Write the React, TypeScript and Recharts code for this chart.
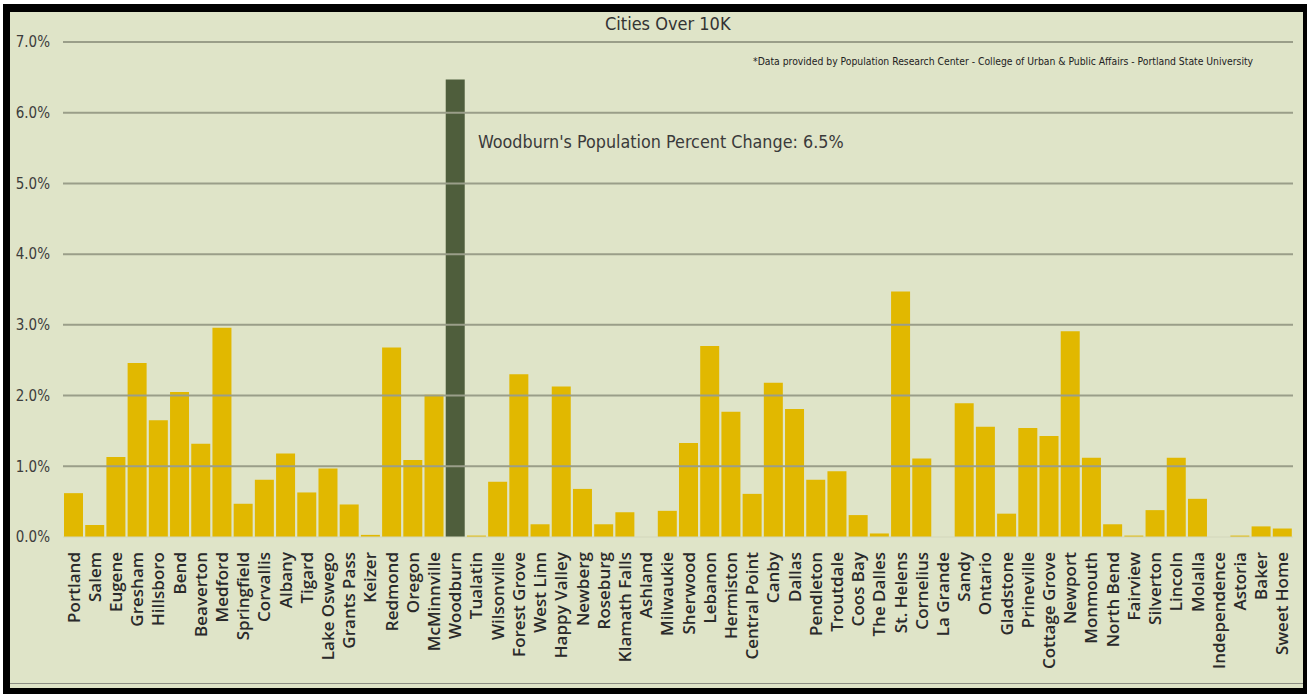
import React from 'react';
import { BarChart, Bar, XAxis, YAxis, Cell, ReferenceLine } from 'recharts';

// cities in the order they appear on the axis
const cities = [
  'Portland', 'Salem', 'Eugene', 'Gresham', 'Hillsboro', 'Bend', 'Beaverton', 'Medford',
  'Springfield', 'Corvallis', 'Albany', 'Tigard', 'Lake Oswego', 'Grants Pass', 'Keizer',
  'Redmond', 'Oregon', 'McMinnville', 'Woodburn', 'Tualatin', 'Wilsonville', 'Forest Grove',
  'West Linn', 'Happy Valley', 'Newberg', 'Roseburg', 'Klamath Falls', 'Ashland', 'Milwaukie',
  'Sherwood', 'Lebanon', 'Hermiston', 'Central Point', 'Canby', 'Dallas', 'Pendleton',
  'Troutdale', 'Coos Bay', 'The Dalles', 'St. Helens', 'Cornelius', 'La Grande', 'Sandy',
  'Ontario', 'Gladstone', 'Prineville', 'Cottage Grove', 'Newport', 'Monmouth', 'North Bend',
  'Fairview', 'Silverton', 'Lincoln', 'Molalla', 'Independence', 'Astoria', 'Baker', 'Sweet Home',
];

// population percent change (%)
const pctChange = [
  0.62, 0.17, 1.13, 2.46, 1.65, 2.05, 1.32, 2.96,
  0.47, 0.81, 1.18, 0.63, 0.97, 0.46, 0.03,
  2.68, 1.09, 2.01, 6.47, 0.02, 0.78, 2.3,
  0.18, 2.13, 0.68, 0.18, 0.35, 0.0, 0.37,
  1.33, 2.7, 1.77, 0.61, 2.18, 1.81, 0.81,
  0.93, 0.31, 0.05, 3.47, 1.11, 0.0, 1.89,
  1.56, 0.33, 1.54, 1.43, 2.91, 1.12, 0.18,
  0.02, 0.38, 1.12, 0.54, 0.0, 0.02, 0.15, 0.12,
];

const highlightCity = 'Woodburn';
const yTicks = [0, 1, 2, 3, 4, 5, 6, 7];
const gridValues = [1, 2, 3, 4, 5, 6, 7];

const narrow = '"Liberation Sans Narrow", "DejaVu Sans Condensed", "Arial Narrow", sans-serif';

function CityTick({ x, y, payload }: any) {
  return (
    <text
      x={x}
      y={y}
      transform={`rotate(-90 ${x} ${y})`}
      textAnchor="end"
      dy="0.35em"
      fontSize={17}
      fontWeight={600}
      fill="#2a2a2a"
      fontFamily='"Open Sans", sans-serif'
    >
      {payload.value}
    </text>
  );
}

export default function App() {
  const data = cities.map((city, i) => ({ city, pct: pctChange[i] }));

  return (
    <div style={{ position: 'absolute', left: 0, top: 0, width: 1307, height: 694, background: '#fff', overflow: 'hidden' }}>
      <div
        style={{
          position: 'absolute',
          left: 3,
          top: 4,
          right: 0,
          bottom: 0,
          boxSizing: 'border-box',
          borderStyle: 'solid',
          borderColor: '#000',
          borderWidth: '8px 4px 6px 7px',
          background: '#dfe4c8',
        }}
      >
        {/* thin grey rule just inside the bottom frame */}
        <div style={{ position: 'absolute', left: 0, right: 0, bottom: 4, height: 1, background: '#8d8f84' }} />
      </div>
      <div style={{ position: 'absolute', left: 0, top: 0 }}>
        <BarChart width={1307} height={694} data={data} margin={{ top: 42, right: 14, bottom: 0, left: 0 }} barCategoryGap={1}>
          {gridValues.map((v) => (
            <ReferenceLine key={v} y={v} stroke="#9a9e89" strokeWidth={2} />
          ))}
          <XAxis
            dataKey="city"
            interval={0}
            height={157}
            tick={<CityTick />}
            tickLine={false}
            tickSize={0}
            tickMargin={15}
            axisLine={{ stroke: '#d2d6bb' }}
          />
          <YAxis
            width={63}
            domain={[0, 7]}
            ticks={yTicks}
            tickFormatter={(v: number) => `${v.toFixed(1)}%`}
            axisLine={false}
            tickLine={false}
            tickSize={0}
            tickMargin={13}
            tick={{ fontSize: 15, fill: '#3c3c3c', fontFamily: narrow }}
          />
          <Bar dataKey="pct" isAnimationActive={false}>
            {data.map((d) => (
              <Cell key={d.city} fill={d.city === highlightCity ? '#4f5e3c' : '#e1b800'} />
            ))}
          </Bar>
        </BarChart>
      </div>
      <div style={{ position: 'absolute', left: 605, top: 13, fontSize: 18, color: '#333', fontFamily: narrow, whiteSpace: 'nowrap' }}>
        Cities Over 10K
      </div>
      <div style={{ position: 'absolute', left: 753, top: 55, fontSize: 10.3, color: '#222', fontFamily: narrow, whiteSpace: 'nowrap' }}>
        *Data provided by Population Research Center - College of Urban &amp; Public Affairs - Portland State University
      </div>
      <div style={{ position: 'absolute', left: 478, top: 131, fontSize: 17.8, color: '#3a3a3a', fontFamily: narrow, whiteSpace: 'nowrap' }}>
        Woodburn's Population Percent Change: 6.5%
      </div>
    </div>
  );
}
